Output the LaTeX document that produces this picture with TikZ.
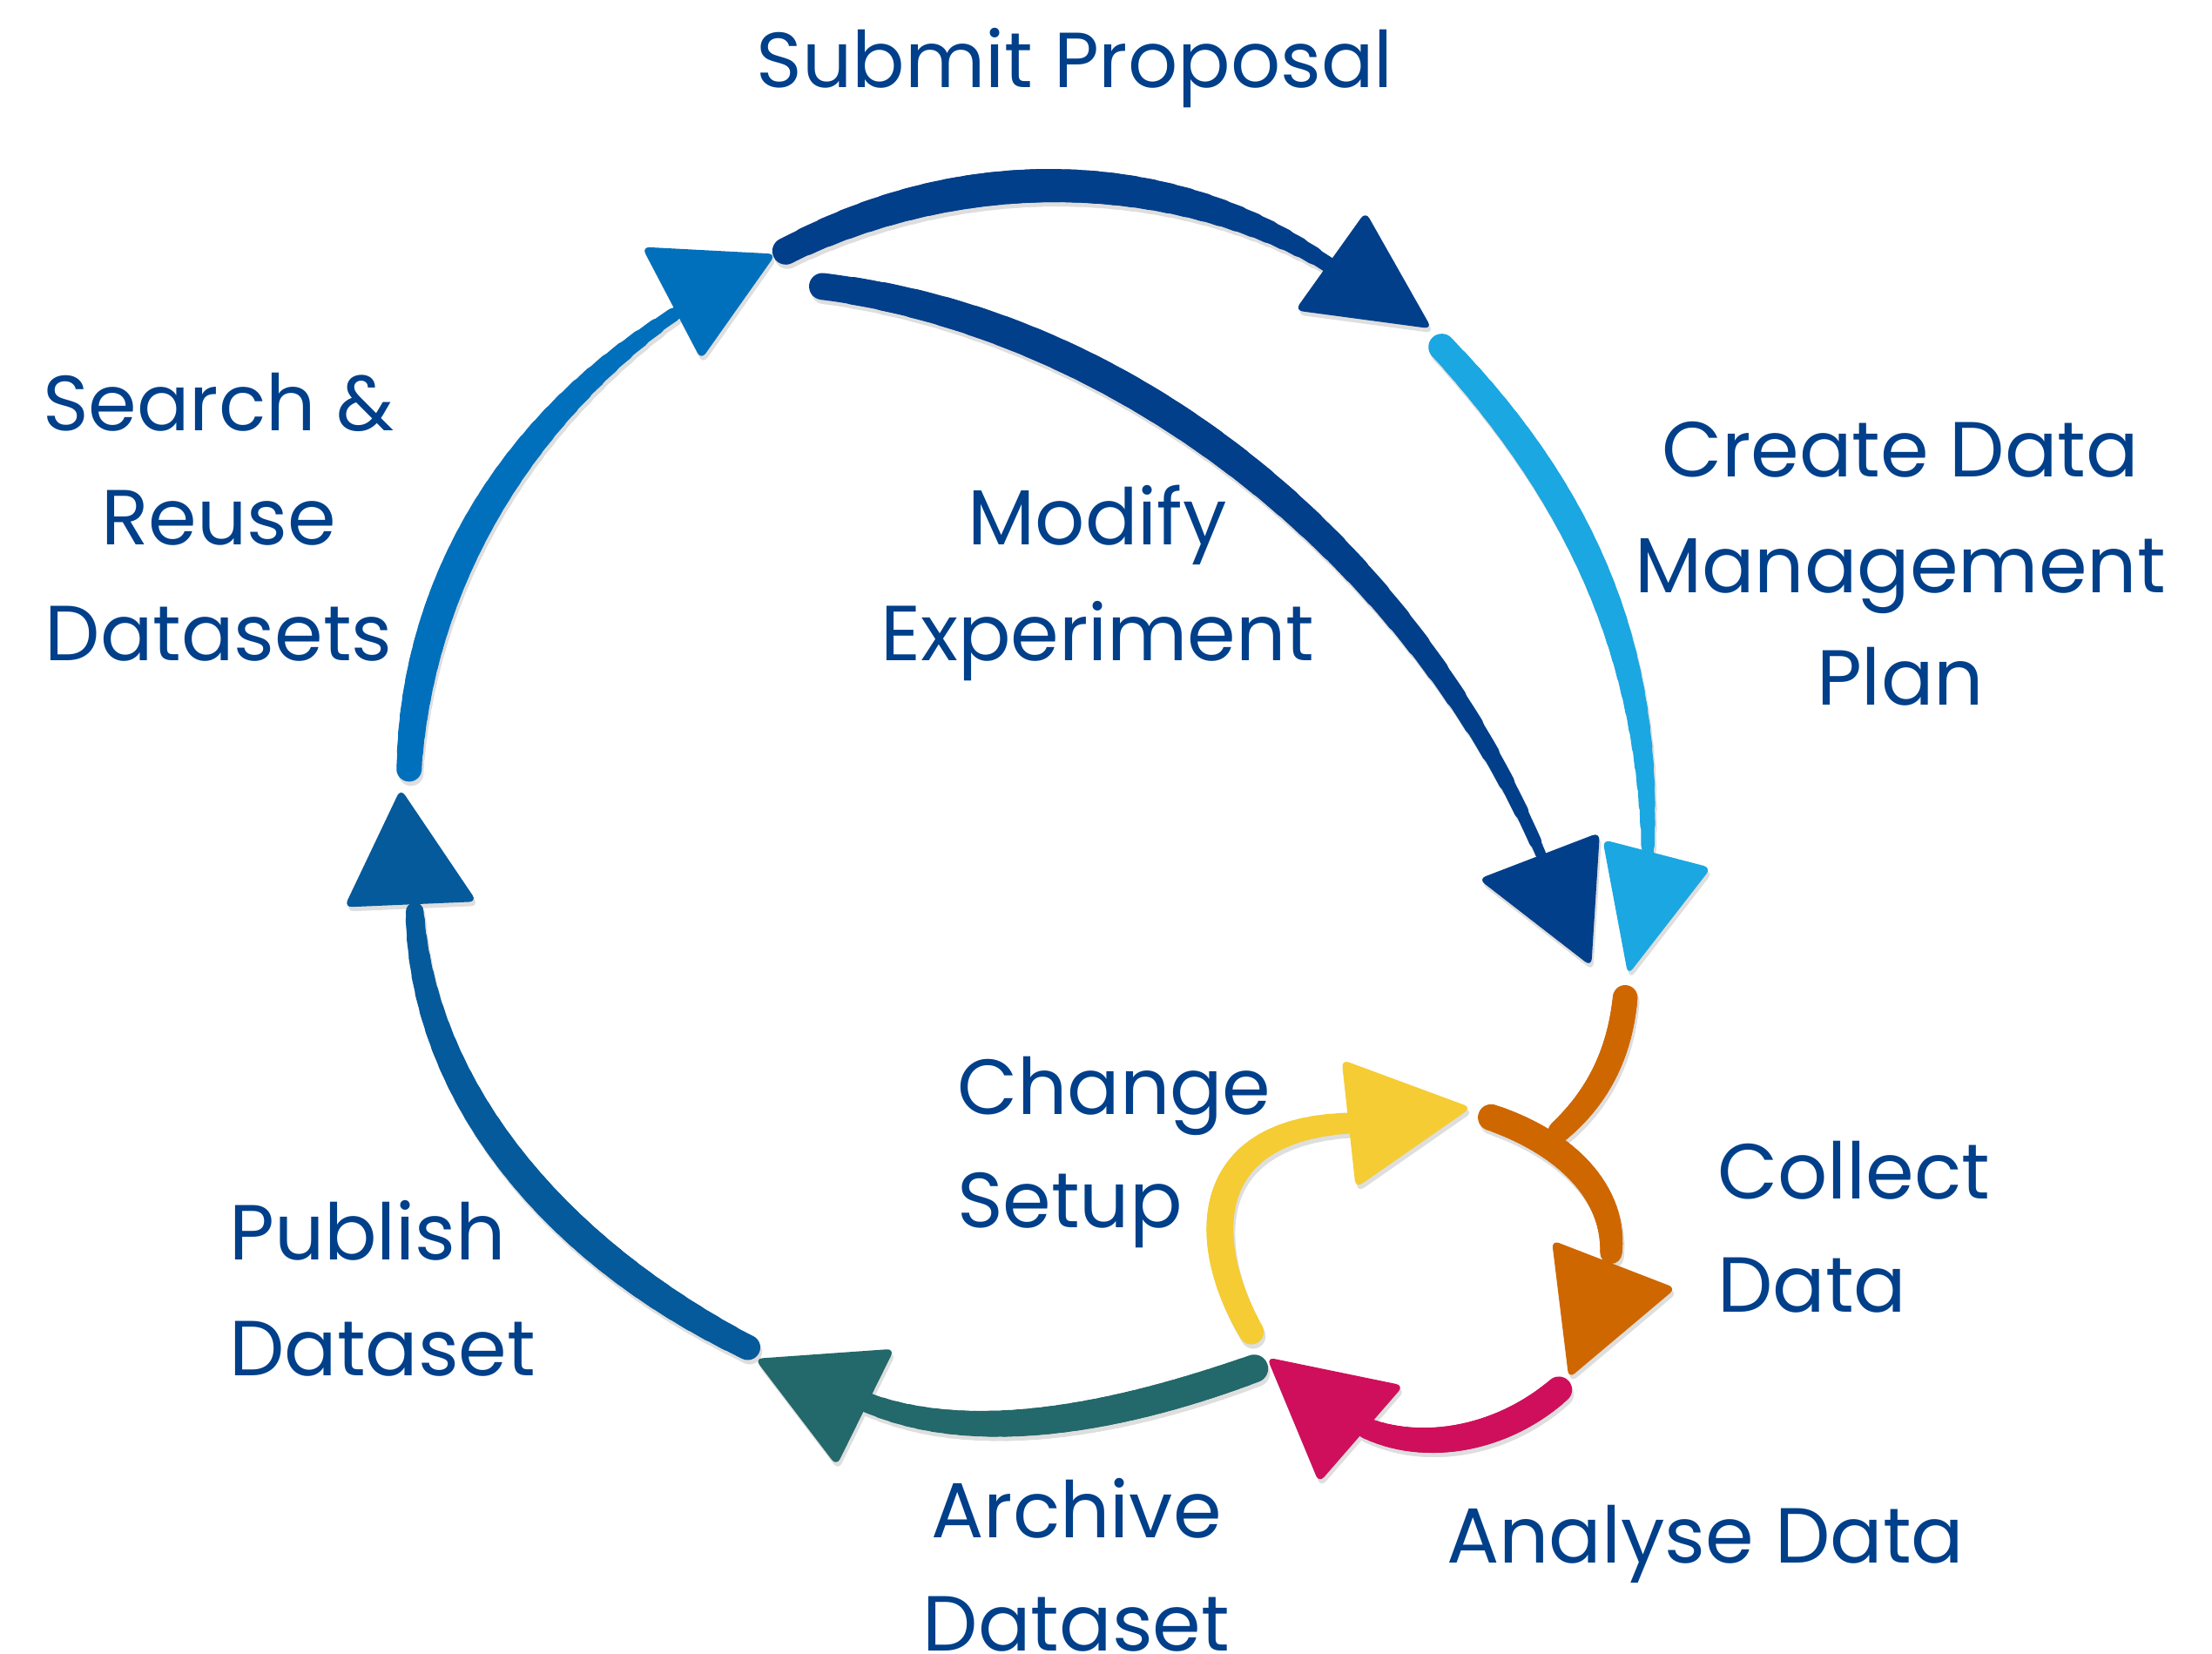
\documentclass[tikz,border=0pt]{standalone}
\usepackage{fontspec}
\setmainfont{Poppins}
\definecolor{txt}{HTML}{003F8A}
\definecolor{navy}{HTML}{023F8A}
\definecolor{midblue}{HTML}{0070BC}
\definecolor{lightblue}{HTML}{1BA7E1}
\definecolor{pubblue}{HTML}{045A9B}
\definecolor{teal}{HTML}{23686A}
\definecolor{magenta}{HTML}{CF0F5B}
\definecolor{yellow}{HTML}{F5CC33}
\definecolor{orange}{HTML}{CF6700}
% tapered brush stroke along a cubic curve: colour, start/mid/end width (pt), four named points
\newcommand\brush[8]{%
  \foreach \i in {0,...,29}{%
    \pgfmathsetmacro\ta{\i/30}%
    \pgfmathsetmacro\tb{min(1,(\i+1.6)/30)}%
    \pgfmathsetmacro\tt{(\i+0.5)/30}%
    \pgfmathsetmacro\w{0.6+#2*(1-\tt)*(1-2*\tt)+4*#3*\tt*(1-\tt)+#4*\tt*(2*\tt-1)}%
    \begin{pgfscope}%
      \pgfsetlinewidth{\w pt}%
      \pgfsetroundcap
      \pgfsetstrokecolor{#1}%
      \pgfpathcurvebetweentime{\ta}{\tb}{\pgfpointanchor{#5}{center}}{\pgfpointanchor{#6}{center}}{\pgfpointanchor{#7}{center}}{\pgfpointanchor{#8}{center}}%
      \pgfusepath{stroke}%
    \end{pgfscope}}}
\newcommand\cyclestrokes{%
\brush{navy}{8}{10}{3.5}{a0}{a1}{a2}{a3}
\fill[head,navy] (968,150) -- (918,220) -- (1015,233) -- cycle;
\brush{midblue}{7.5}{9}{3}{b0}{b1}{b2}{b3}
\fill[head,midblue] (455,175) -- (550,180) -- (497,255) -- cycle;
\brush{navy}{8}{9}{2.5}{c0}{c1}{c2}{c3}
\fill[head,navy] (1048,623) -- (1134,590) -- (1128,685) -- cycle;
\brush{lightblue}{8}{8.5}{3}{d0}{d1}{d2}{d3}
\fill[head,lightblue] (1136,595) -- (1213,615) -- (1154,691) -- cycle;
\brush{orange}{7.5}{7.5}{6.5}{e0}{e1}{e2}{e3}
\brush{orange}{8}{8}{6.5}{f0}{f1}{f2}{f3}
\fill[head,orange] (1100,879) -- (1188,913) -- (1112,977) -- cycle;
\brush{magenta}{8}{8}{6}{g0}{g1}{g2}{g3}
\fill[head,magenta] (898,962) -- (995,982) -- (935,1051) -- cycle;
\brush{yellow}{7.5}{8}{6}{h0}{h1}{h2}{h3}
\fill[head,yellow] (951,751) -- (1043,785) -- (961,842) -- cycle;
\brush{teal}{8.5}{8.5}{5.5}{k0}{k1}{k2}{k3}
\fill[head,teal] (535,963) -- (634,956) -- (593,1039) -- cycle;
\brush{pubblue}{7.5}{9}{5}{m0}{m1}{m2}{m3}
\fill[head,pubblue] (284,559) -- (244,643) -- (338,639) -- cycle;}
\begin{document}
\begin{tikzpicture}[x=0.0162cm,y=-0.0162cm,
  lbl/.style={text=txt,font=\fontsize{25.5}{30}\selectfont,anchor=base,inner sep=0pt},
  lbll/.style={lbl,anchor=base west},
  head/.style={rounded corners=2.5pt}]
\useasboundingbox[fill=white] (0,0) rectangle (1568,1172);
% curve control points
\coordinate (a0) at (557,178); \coordinate (a1) at (700,105); \coordinate (a2) at (850,125); \coordinate (a3) at (945,190);
\coordinate (b0) at (290,545); \coordinate (b1) at (295,420); \coordinate (b2) at (360,300); \coordinate (b3) at (482,220);
\coordinate (c0) at (583,203); \coordinate (c1) at (800,230); \coordinate (c2) at (1000,390); \coordinate (c3) at (1092,605);
\coordinate (d0) at (1022,246); \coordinate (d1) at (1120,350); \coordinate (d2) at (1170,460); \coordinate (d3) at (1168,605);
\coordinate (e0) at (1152,707); \coordinate (e1) at (1148,750); \coordinate (e2) at (1130,780); \coordinate (e3) at (1105,802);
\coordinate (f0) at (1057,792); \coordinate (f1) at (1110,810); \coordinate (f2) at (1145,845); \coordinate (f3) at (1142,888);
\coordinate (g0) at (1105,985); \coordinate (g1) at (1065,1020); \coordinate (g2) at (1010,1030); \coordinate (g3) at (968,1012);
\coordinate (h0) at (887,944); \coordinate (h1) at (850,880); \coordinate (h2) at (850,800); \coordinate (h3) at (958,796);
\coordinate (k0) at (889,970); \coordinate (k1) at (820,995); \coordinate (k2) at (700,1030); \coordinate (k3) at (612,993);
\coordinate (m0) at (530,955); \coordinate (m1) at (400,890); \coordinate (m2) at (300,780); \coordinate (m3) at (294,646);
% soft drop shadow
\begin{scope}[transform canvas={shift={(0.6pt,-1.4pt)}},transparency group,opacity=0.13]
\colorlet{navy}{black}\colorlet{midblue}{black}\colorlet{lightblue}{black}\colorlet{pubblue}{black}
\colorlet{teal}{black}\colorlet{magenta}{black}\colorlet{yellow}{black}\colorlet{orange}{black}
\cyclestrokes
\end{scope}
% strokes and arrowheads
\cyclestrokes
% labels
\node[lbl] (sp) at (762,62) {Submit Proposal};
\node[lbl] (sr1) at (155,305) {Search \&};
\node[lbl] (sr2) at (155,386) {Reuse};
\node[lbl] (sr3) at (155,468) {Datasets};
\node[lbl] (me1) at (778,386) {Modify};
\node[lbl] (me2) at (778,468) {Experiment};
\node[lbl] (cd1) at (1347,338) {Create Data};
\node[lbl] (cd2) at (1347,420) {Management};
\node[lbl] (cd3) at (1347,500) {Plan};
\node[lbll] (cs1) at (678,790) {Change};
\node[lbll] (cs2) at (678,870) {Setup};
\node[lbll] (cl1) at (1217,850) {Collect};
\node[lbll] (cl2) at (1217,930) {Data};
\node[lbll] (pd1) at (162,893) {Publish};
\node[lbll] (pd2) at (162,975) {Dataset};
\node[lbl] (ad1) at (763,1090) {Archive};
\node[lbl] (ad2) at (763,1170) {Dataset};
\node[lbll] (an) at (1025,1108) {Analyse Data};
\end{tikzpicture}
\end{document}
